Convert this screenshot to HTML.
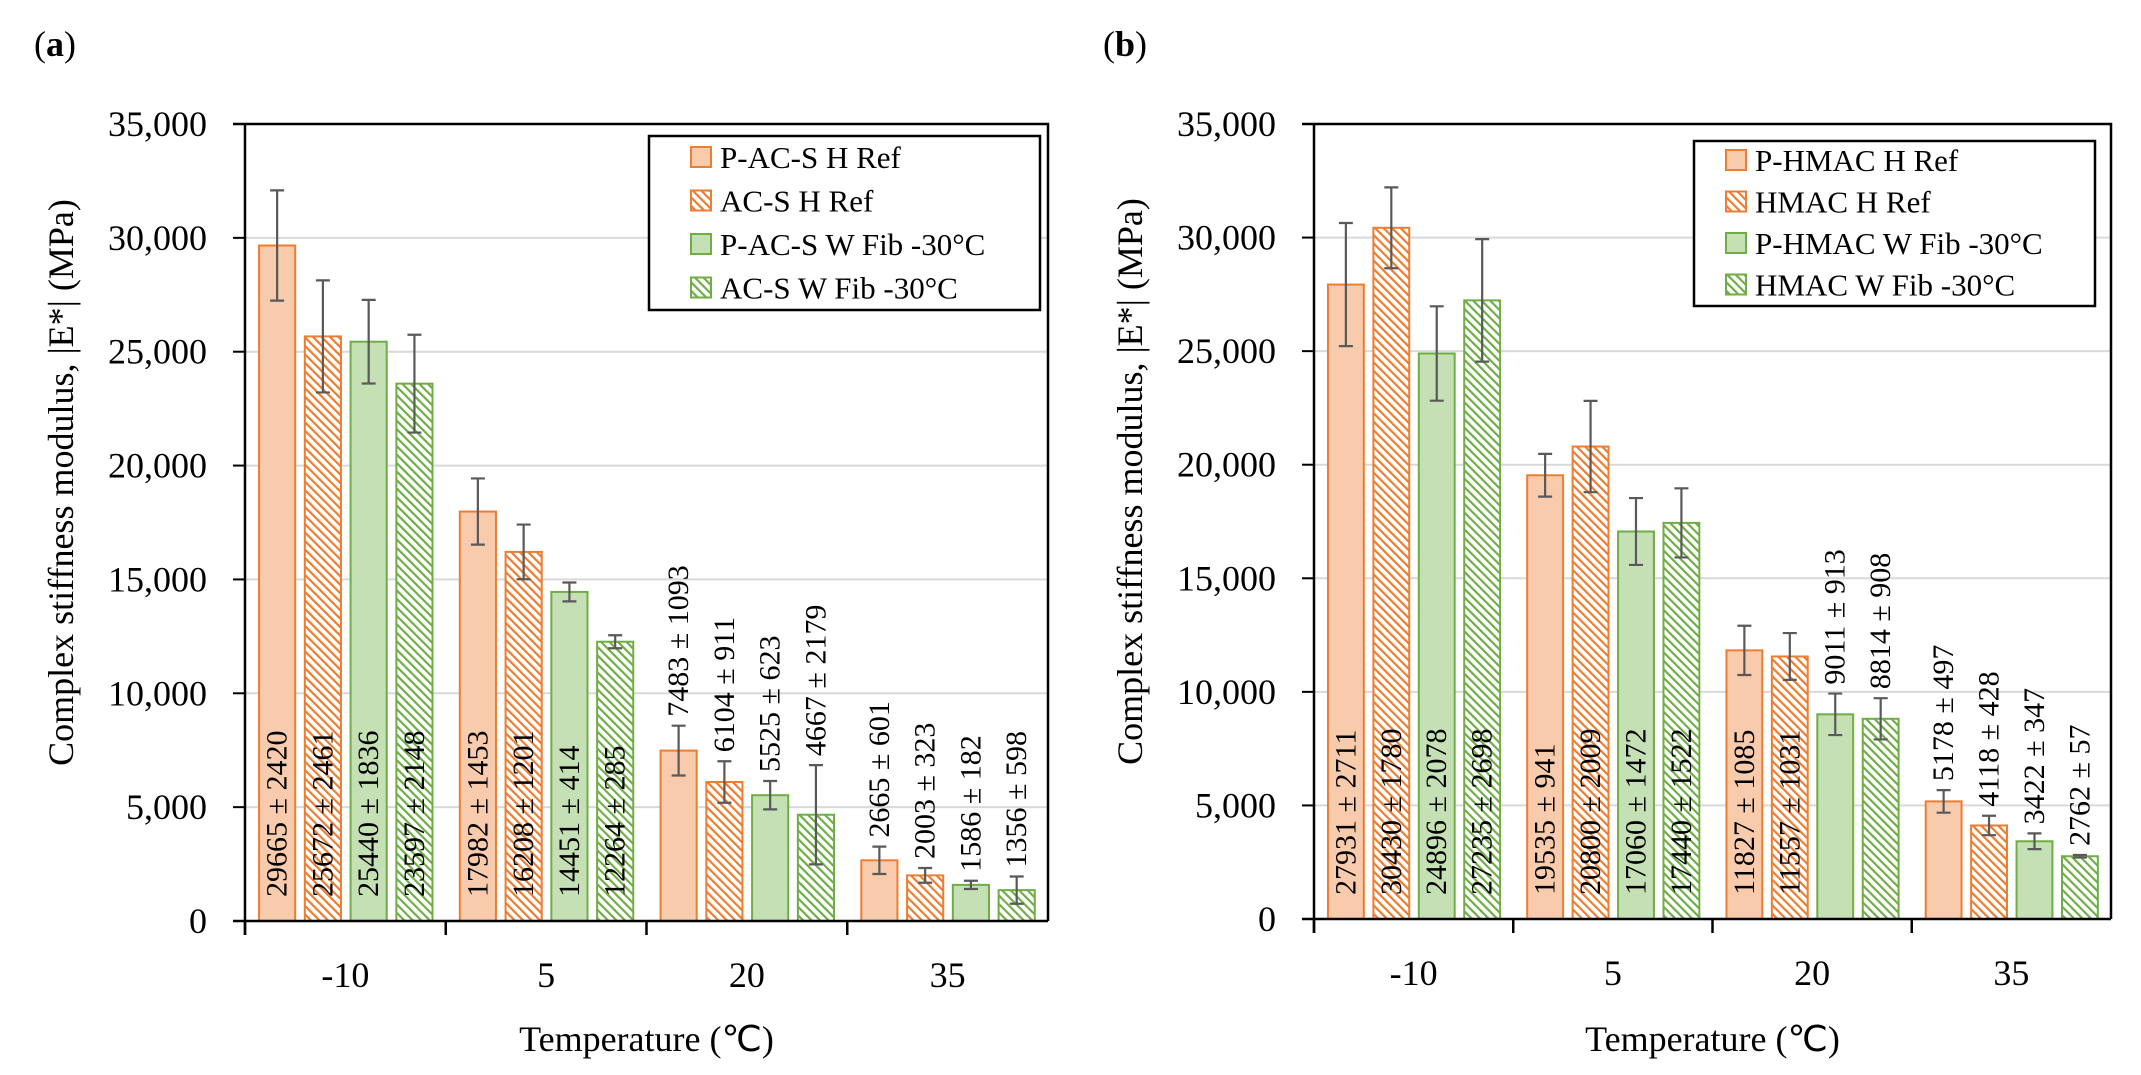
<!DOCTYPE html>
<html><head><meta charset="utf-8">
<style>
html,body{margin:0;padding:0;background:#fff;}
svg{display:block;font-family:"Liberation Serif",serif;}
</style></head>
<body>
<svg id="chart" width="2141" height="1075" viewBox="0 0 2141 1075" xmlns="http://www.w3.org/2000/svg">
<defs>
<pattern id="hatch-orange" patternUnits="userSpaceOnUse" width="6" height="6" patternTransform="rotate(-45)">
<rect width="6" height="6" fill="#fff"/><rect x="0" y="0" width="2.2" height="6" fill="#ED7D31"/>
</pattern>
<pattern id="hatch-green" patternUnits="userSpaceOnUse" width="6" height="6" patternTransform="rotate(-45)">
<rect width="6" height="6" fill="#fff"/><rect x="0" y="0" width="2.2" height="6" fill="#70AD47"/>
</pattern>
</defs>
</svg>
<script>
const categories = ["-10","5","20","35"];
const yTicks = [0,5000,10000,15000,20000,25000,30000,35000];
const yTickLabels = ["0","5,000","10,000","15,000","20,000","25,000","30,000","35,000"];
const seriesNamesA = ["P-AC-S H Ref","AC-S H Ref","P-AC-S W Fib -30°C","AC-S W Fib -30°C"];
const seriesNamesB = ["P-HMAC H Ref","HMAC H Ref","P-HMAC W Fib -30°C","HMAC W Fib -30°C"];
const valuesA = [[29665,17982,7483,2665],[25672,16208,6104,2003],[25440,14451,5525,1586],[23597,12264,4667,1356]];
const errorsA = [[2420,1453,1093,601],[2461,1201,911,323],[1836,414,623,182],[2148,285,2179,598]];
const valuesB = [[27931,19535,11827,5178],[30430,20800,11557,4118],[24896,17060,9011,3422],[27235,17440,8814,2762]];
const errorsB = [[2711,941,1085,497],[1780,2009,1031,428],[2078,1472,913,347],[2698,1522,908,57]];
const insideA = [[1,1,0,0],[1,1,0,0],[1,1,0,0],[1,1,0,0]];
const insideB = [[1,1,1,0],[1,1,1,0],[1,1,0,0],[1,1,0,0]];

const NS="http://www.w3.org/2000/svg";
const svg=document.getElementById('chart');
function mk(tag,attrs,parent){const e=document.createElementNS(NS,tag);for(const k in attrs)e.setAttribute(k,attrs[k]);(parent||svg).appendChild(e);return e;}
const fills=["#F8CBAD","url(#hatch-orange)","#C5E0B4","url(#hatch-green)"];
const strokes=["#ED7D31","#ED7D31","#70AD47","#70AD47"];

function panel(p){
  const g=mk('g',{});
  
  
  const y=v=>p.y0-(v/35000)*(p.y0-p.y1);
  const cw=(p.x1-p.x0)/categories.length;
  const lab=mk('text',{x:p.x0-211,y:56,'font-size':36},g);
  lab.innerHTML='(<tspan font-weight="bold">'+p.id+'</tspan>)';
  
  
  yTicks.forEach((t,i)=>{
    if(t>0&&t<35000){const gl=mk('line',{x1:p.x0,x2:p.x1,y1:y(t),y2:y(t),stroke:'#d9d9d9','stroke-width':2},g);
      }
    mk('line',{x1:p.x0-12,x2:p.x0,y1:y(t),y2:y(t),stroke:'#000','stroke-width':2},g);
    const tl=mk('text',{x:p.x0-38,y:y(t)+12,'font-size':36,'text-anchor':'end'},g);
    tl.textContent=yTickLabels[i];
    
    
  });
  const fr=mk('path',{d:`M${p.x0-12},${p.y1}H${p.x1}V${p.y0}`,fill:'none',stroke:'#000','stroke-width':2.5},g);
  
  categories.forEach((c,ci)=>{
    const cx=p.x0+cw*ci;
    mk('line',{x1:cx,x2:cx,y1:p.y0,y2:p.y0+14,stroke:'#000','stroke-width':2.5},g);
    const xl=mk('text',{x:cx+cw/2,y:p.y0+66,'font-size':36,'text-anchor':'middle'},g);
    xl.textContent=c;
    
    
    for(let s=0;s<4;s++){
      const v=p.vals[s][ci],e=p.errs[s][ci];
      const bx=cx+cw*0.07+s*cw*0.228, bw=cw*0.18;
      const r=mk('rect',{x:bx,y:y(v),width:bw,height:p.y0-y(v),fill:fills[s],stroke:strokes[s],'stroke-width':2},g);
      
      
      const mx=bx+bw/2;
      const eb=mk('path',{d:`M${mx},${y(v+e)}V${y(v-e)}M${mx-7},${y(v+e)}H${mx+7}M${mx-7},${y(v-e)}H${mx+7}`,stroke:'#595959','stroke-width':2.2,fill:'none'},g);
      
      const inside=p.inside[s][ci];
      const ty=inside?p.y0-24:y(v+e)-9;
      const t=mk('text',{x:0,y:0,'font-size':30,'dominant-baseline':'central',transform:`translate(${mx},${ty}) rotate(-90)`},g);
      t.textContent=v+' ± '+e;
      
      
    }
  });
  mk('line',{x1:p.x0,x2:p.x0,y1:p.y1,y2:p.y0+14,stroke:'#000','stroke-width':2.5},g);
  mk('line',{x1:p.x0-12,x2:p.x1,y1:p.y0,y2:p.y0,stroke:'#000','stroke-width':2.5},g);
  const yt=mk('text',{x:0,y:0,'font-size':36,'text-anchor':'middle',transform:`translate(${p.x0-172},${(p.y0+p.y1)/2-40}) rotate(-90)`},g);
  yt.textContent='Complex stiffness modulus, |E*| (MPa)';
  
  const xt=mk('text',{x:(p.x0+p.x1)/2,y:1051,'font-size':36,'text-anchor':'middle'},g);
  xt.textContent='Temperature (℃)';
  
  const L=p.leg;
  const lg=mk('g',{},g);
  
  mk('rect',{x:L.x,y:L.y,width:L.w,height:L.h,fill:'#fff',stroke:'#000','stroke-width':2.5},lg);
  p.names.forEach((n,i)=>{
    const ey=L.ey+i*L.step;
    const sw=mk('rect',{x:L.sx,y:ey-10,width:20,height:20,fill:fills[i],stroke:strokes[i],'stroke-width':2},lg);
    
    const lt=mk('text',{x:L.sx+29,y:ey+11,'font-size':31},lg);
    lt.textContent=n;
    
  });
}
panel({id:'a',x0:245,x1:1048,y0:921,y1:124,vals:valuesA,errs:errorsA,inside:insideA,names:seriesNamesA,
  leg:{x:649,y:136,w:391,h:174,sx:691,ey:157,step:43.5}});
panel({id:'b',x0:1314,x1:2111,y0:919,y1:124,vals:valuesB,errs:errorsB,inside:insideB,names:seriesNamesB,
  leg:{x:1694,y:141,w:401,h:165,sx:1726,ey:160,step:41.5}});
</script>
</body></html>
